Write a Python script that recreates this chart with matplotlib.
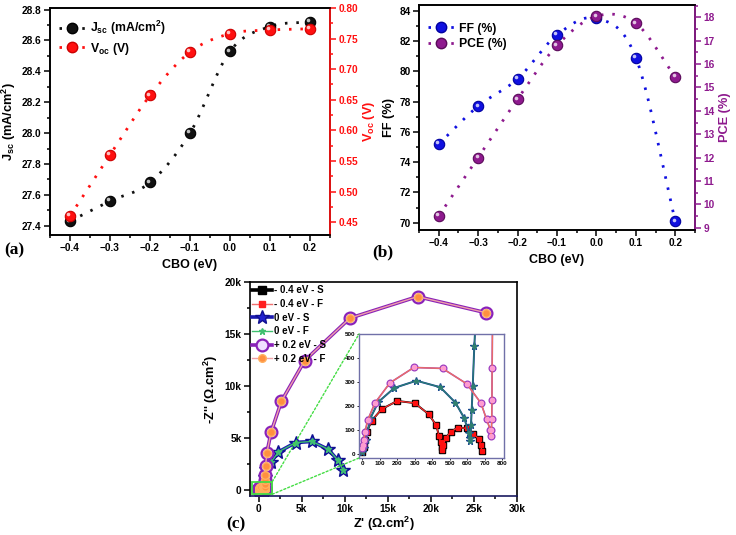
import numpy as np
import matplotlib
matplotlib.use('Agg')
import matplotlib.pyplot as plt
from matplotlib.patches import Rectangle, ConnectionPatch
from matplotlib.ticker import MultipleLocator, FuncFormatter
from matplotlib.lines import Line2D
import matplotlib.transforms as mtransforms

plt.rcParams['font.family'] = ['Liberation Sans', 'DejaVu Sans']
plt.rcParams['font.weight'] = 'bold'
plt.rcParams['axes.labelweight'] = 'bold'
plt.rcParams['mathtext.fontset'] = 'custom'
plt.rcParams['mathtext.rm'] = 'Liberation Sans:bold'
plt.rcParams['mathtext.bf'] = 'Liberation Sans:bold'
plt.rcParams['mathtext.it'] = 'Liberation Sans:bold'
plt.rcParams['mathtext.default'] = 'bf'

# ---------------- data ----------------
cbo = [-0.4, -0.3, -0.2, -0.1, 0.0, 0.1, 0.2]
jsc = [27.43, 27.56, 27.68, 28.00, 28.53, 28.69, 28.72]
voc = [0.460, 0.560, 0.657, 0.728, 0.758, 0.764, 0.766]
ff = [75.2, 77.7, 79.5, 82.4, 83.5, 80.9, 70.1]
pce = [9.5, 12.0, 14.5, 16.8, 18.05, 17.75, 15.45]

zre_m04 = [0, 6, 12, 25, 53, 110, 199, 299, 379, 423, 437, 447, 453, 455, 462,
           477, 504, 545, 600, 635, 665, 678, 682]
zim_m04 = [10, 31, 60, 95, 140, 188, 222, 213, 167, 120, 78, 50, 31, 18, 40,
           68, 93, 111, 108, 86, 64, 41, 14]

zre_0 = [0, 6, 19, 45, 91, 182, 309, 445, 532, 583, 608, 616, 618, 621, 625,
         631, 640, 700, 900, 1430, 2300, 4300, 6200, 8100, 9200, 9800]
zim_0 = [10, 27, 61, 150, 218, 276, 306, 279, 215, 150, 89, 54, 68, 120, 184,
         283, 449, 1300, 2000, 2680, 3680, 4580, 4690, 3920, 2880, 1960]

zre_p02 = [0, 2, 8, 15, 30, 72, 157, 294, 458, 597, 678, 710, 732, 735, 738,
           740, 741, 742, 745, 755, 770, 800, 960, 1450, 2650, 5350, 10600,
           18450, 26400]
zim_p02 = [27, 41, 61, 95, 143, 214, 297, 361, 357, 293, 213, 146, 102, 75, 102,
           146, 227, 358, 600, 1000, 1450, 2300, 3600, 5590, 8550, 12450, 16530,
           18600, 17050]

cbo_ticks = [-0.4, -0.3, -0.2, -0.1, 0.0, 0.1, 0.2]


def smooth(x, y, n=24):
    x = np.asarray(x, float)
    y = np.asarray(y, float)
    m = np.gradient(y, x)
    xs, ys = [], []
    for i in range(len(x) - 1):
        h = x[i + 1] - x[i]
        t = np.linspace(0, 1, n, endpoint=(i == len(x) - 2))
        h00 = 2 * t**3 - 3 * t**2 + 1
        h10 = t**3 - 2 * t**2 + t
        h01 = -2 * t**3 + 3 * t**2
        h11 = t**3 - t**2
        xs.append(x[i] + t * h)
        ys.append(h00 * y[i] + h10 * h * m[i] + h01 * y[i + 1] + h11 * h * m[i + 1])
    return np.concatenate(xs), np.concatenate(ys)


W, H = 736, 535
fig = plt.figure(figsize=(W / 100, H / 100), dpi=100)


def rect(l, r, t, b):
    return [l / W, (H - b) / H, (r - l) / W, (b - t) / H]


DOT = (0, (0.9, 3.2))
TICK_FS = 7.3
LAB_FS = 9.2


def balls(ax, x, y, color, edge):
    xs, ys = smooth(x, y)
    ax.plot(xs, ys, color=color, lw=2.0, ls=DOT, zorder=2)
    ax.plot(x, y, 'o', ms=7.5, mfc=color, mec=edge, mew=0.8, zorder=3)
    off = mtransforms.offset_copy(ax.transData, fig=fig, x=-1.6, y=1.6, units='dots')
    ax.plot(x, y, 'o', ms=2.6, mfc='white', mec='none', alpha=0.75, transform=off, zorder=4)


def style_ax(ax):
    for s in ax.spines.values():
        s.set_linewidth(1.2)
    ax.tick_params(which='both', direction='out', labelsize=TICK_FS, width=1.1, pad=2)
    ax.tick_params(which='major', length=4)
    ax.tick_params(which='minor', length=2.2)


# ---------------- panel (a) ----------------
axa = fig.add_axes(rect(50, 330, 8, 235))
axa2 = axa.twinx()
balls(axa, cbo, jsc, '#111111', '#000000')
balls(axa2, cbo, voc, '#ff1010', '#cc0000')
axa.set_xlim(-0.45, 0.25)
axa.set_ylim(27.34, 28.81)
axa2.set_ylim(0.429, 0.80)
axa.set_xticks(cbo_ticks)
axa.xaxis.set_minor_locator(MultipleLocator(0.05))
axa.yaxis.set_major_locator(MultipleLocator(0.2))
axa.yaxis.set_minor_locator(MultipleLocator(0.1))
axa.yaxis.set_major_formatter(FuncFormatter(lambda v, p: f'{v:.1f}'))
axa2.yaxis.set_major_locator(MultipleLocator(0.05))
axa2.yaxis.set_minor_locator(MultipleLocator(0.025))
axa2.yaxis.set_major_formatter(FuncFormatter(lambda v, p: f'{v:.2f}'))
style_ax(axa)
style_ax(axa2)
axa2.spines['right'].set_color('#ff1010')
axa2.tick_params(axis='y', which='both', colors='#ff1010')
axa.set_ylabel('J$_{sc}$ (mA/cm$^{2}$)', fontsize=LAB_FS, labelpad=3)
axa2.set_ylabel('V$_{oc}$ (V)', fontsize=LAB_FS, color='#ff1010', labelpad=2)
axa.set_xlabel('CBO (eV)', fontsize=9, labelpad=4)
ha = [Line2D([], [], color='#111111', ls=DOT, lw=2, marker='o', ms=7.5, mfc='#111111', mec='k'),
      Line2D([], [], color='#ff1010', ls=DOT, lw=2, marker='o', ms=7.5, mfc='#ff1010', mec='#cc0000')]
axa2.legend(ha, ['J$_{sc}$ (mA/cm$^{2}$)', 'V$_{oc}$ (V)'], loc='upper left', frameon=False,
            fontsize=8.8, handlelength=2.2, borderaxespad=0.3, labelspacing=0.3,
            handletextpad=0.4, bbox_to_anchor=(0.0, 0.99))
fig.text(0.006, (H - 254) / H, '(a)', family='Liberation Serif', fontsize=12.5, fontweight='bold')

# ---------------- panel (b) ----------------
PUR = '#8e1a8e'
axb = fig.add_axes(rect(419, 695, 5, 230))
axb2 = axb.twinx()
balls(axb, cbo, ff, '#1010e0', '#0000a0')
balls(axb2, cbo, pce, PUR, '#5a0a5a')
axb.set_xlim(-0.45, 0.25)
axb.set_ylim(69.52, 84.38)
axb2.set_ylim(8.9, 18.53)
axb.set_xticks(cbo_ticks)
axb.xaxis.set_minor_locator(MultipleLocator(0.05))
axb.yaxis.set_major_locator(MultipleLocator(2))
axb.yaxis.set_minor_locator(MultipleLocator(1))
axb2.yaxis.set_major_locator(MultipleLocator(1))
axb2.yaxis.set_minor_locator(MultipleLocator(0.5))
style_ax(axb)
style_ax(axb2)
axb2.spines['right'].set_color(PUR)
axb2.tick_params(axis='y', which='both', colors=PUR)
axb.set_ylabel('FF (%)', fontsize=LAB_FS, labelpad=3)
axb2.set_ylabel('PCE (%)', fontsize=LAB_FS, color=PUR, labelpad=3)
axb.set_xlabel('CBO (eV)', fontsize=9, labelpad=4)
hb = [Line2D([], [], color='#1010e0', ls=DOT, lw=2, marker='o', ms=7.5, mfc='#1010e0', mec='#0000a0'),
      Line2D([], [], color=PUR, ls=DOT, lw=2, marker='o', ms=7.5, mfc=PUR, mec='#5a0a5a')]
axb2.legend(hb, ['FF (%)', 'PCE (%)'], loc='upper left', frameon=False,
            fontsize=8.8, handlelength=2.2, borderaxespad=0.3, labelspacing=0.3,
            handletextpad=0.4, bbox_to_anchor=(0.0, 0.96))
fig.text(372 / W, (H - 256) / H, '(b)', family='Liberation Serif', fontsize=12.5, fontweight='bold')

# ---------------- panel (c) ----------------
axc = fig.add_axes(rect(250, 517, 282, 496))

series = [
    (zre_m04, zim_m04, '- 0.4 eV - S', dict(color='black', lw=2.6, marker='s', ms=6, mfc='black', mec='black')),
    (zre_m04, zim_m04, '- 0.4 eV - F', dict(color='#f07070', lw=1.0, marker='s', ms=4, mfc='#ff2020', mec='#ff2020')),
    (zre_0, zim_0, '0 eV - S', dict(color='#1a1ab0', lw=2.6, marker='*', ms=10, mfc='#2020d0', mec='#101090')),
    (zre_0, zim_0, '0 eV - F', dict(color='#40c070', lw=1.0, marker='*', ms=5, mfc='#40c070', mec='#40c070')),
    (zre_p02, zim_p02, '+ 0.2 eV - S', dict(color='#8a22b8', lw=2.6, marker='o', ms=8.5, mfc='#f0e0ff', mec='#8a22b8', mew=1.6)),
    (zre_p02, zim_p02, '+ 0.2 eV - F', dict(color='#f0a0a8', lw=1.0, marker='o', ms=5.5, mfc='#ff9040', mec='#ffb060')),
]
handles = []
for x, y, lab, kw in series:
    h, = axc.plot(x, y, label=lab, **kw)
    handles.append(h)

axc.set_xlim(-1000, 30000)
axc.set_ylim(-550, 20000)
axc.xaxis.set_major_locator(MultipleLocator(5000))
axc.xaxis.set_minor_locator(MultipleLocator(2500))
axc.yaxis.set_major_locator(MultipleLocator(5000))
axc.yaxis.set_minor_locator(MultipleLocator(2500))
kfmt = FuncFormatter(lambda v, p: '0' if v == 0 else f'{int(v / 1000)}k')
axc.xaxis.set_major_formatter(kfmt)
axc.yaxis.set_major_formatter(kfmt)
style_ax(axc)
axc.spines['bottom'].set_color('#1a1a60')
axc.set_xlabel("Z' (Ω.cm$^{2}$)", fontsize=LAB_FS, labelpad=0.5)
axc.set_ylabel("-Z'' (Ω.cm$^{2}$)", fontsize=LAB_FS, labelpad=3)
leg_c = axc.legend(handles=handles, loc='upper left', frameon=False, fontsize=7.0,
                   handlelength=2.0, borderaxespad=0.15, borderpad=0.2, labelspacing=0.38,
                   handletextpad=0.3, bbox_to_anchor=(-0.005, 1.0))
GR = '#44dd44'
axc.add_patch(Rectangle((-730, -380), 2320, 1210, fill=False, edgecolor=GR, lw=1.3, zorder=5))
fig.text(226 / W, (H - 528) / H, '(c)', family='Liberation Serif', fontsize=12.5, fontweight='bold')

# inset
axi = fig.add_axes(rect(359, 504, 334, 458))
inset_series = [
    (zre_m04, zim_m04, dict(color='black', lw=1.4, marker='s', ms=4.2, mfc='black', mec='black')),
    (zre_m04, zim_m04, dict(color='#ff3030', lw=0.9, marker='s', ms=3.0, mfc='#ff1010', mec='#ff1010')),
    (zre_0, zim_0, dict(color='#1a3aa0', lw=1.4, marker='*', ms=5.5, mfc='#1a4a90', mec='#1a4a90')),
    (zre_0, zim_0, dict(color='#2a8070', lw=0.9, marker='*', ms=3.5, mfc='#308070', mec='#308070')),
    (zre_p02, zim_p02, dict(color='#a040c0', lw=1.2, marker='o', ms=4.8, mfc='#f0d0ff', mec='#a040c0', mew=1.0)),
    (zre_p02, zim_p02, dict(color='#f07060', lw=0.9, marker='o', ms=2.8, mfc='#ff9bd0', mec='#ff9bd0')),
]
for x, y, kw in inset_series:
    axi.plot(x, y, **kw)
axi.set_xlim(-20, 810)
axi.set_ylim(-15, 500)
axi.xaxis.set_major_locator(MultipleLocator(100))
axi.yaxis.set_major_locator(MultipleLocator(100))
axi.tick_params(which='both', direction='out', labelsize=4.5, length=1.5, width=0.6, pad=1)
for s in axi.spines.values():
    s.set_color('#7070a8')
    s.set_linewidth(1.0)

for xyA, xyB in [((1590, 830), (0, 1)), ((1590, -380), (0, 0))]:
    con = ConnectionPatch(xyA=xyA, coordsA=axc.transData, xyB=xyB, coordsB=axi.transAxes,
                          color=GR, lw=1.0, ls=(0, (1.5, 1.5)), zorder=1)
    fig.add_artist(con)

fig.savefig('out.png', dpi=100)
